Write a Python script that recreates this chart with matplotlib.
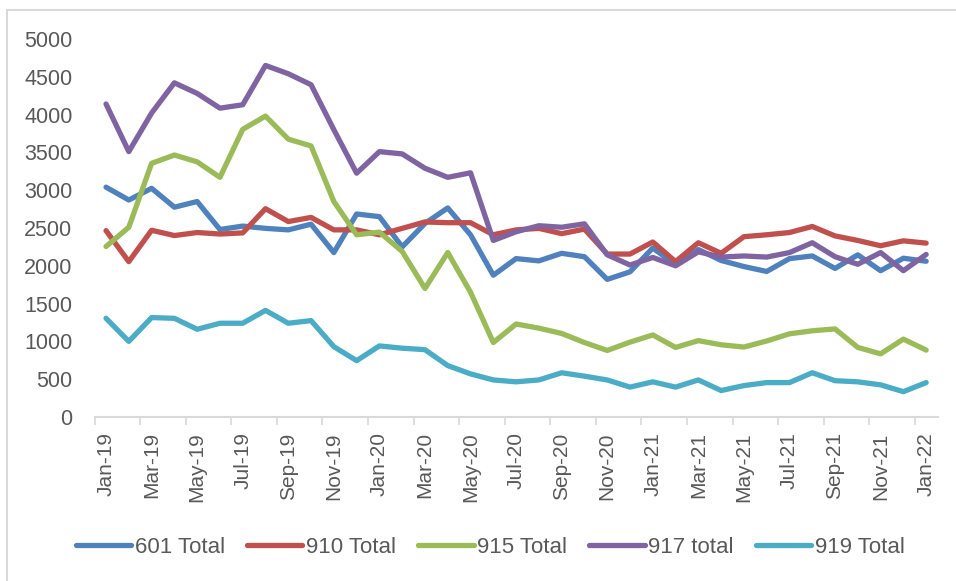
import matplotlib.pyplot as plt
from matplotlib.patches import Rectangle
import numpy as np

#### Data ####

months = ['Jan-19', 'Feb-19', 'Mar-19', 'Apr-19', 'May-19', 'Jun-19', 'Jul-19', 'Aug-19', 'Sep-19',
          'Oct-19', 'Nov-19', 'Dec-19', 'Jan-20', 'Feb-20', 'Mar-20', 'Apr-20', 'May-20', 'Jun-20',
          'Jul-20', 'Aug-20', 'Sep-20', 'Oct-20', 'Nov-20', 'Dec-20', 'Jan-21', 'Feb-21', 'Mar-21',
          'Apr-21', 'May-21', 'Jun-21', 'Jul-21', 'Aug-21', 'Sep-21', 'Oct-21', 'Nov-21', 'Dec-21',
          'Jan-22']

total_601 = [3040, 2870, 3025, 2775, 2850, 2480, 2525, 2495, 2475, 2550, 2175, 2685, 2650, 2250,
             2560, 2765, 2410, 1875, 2095, 2065, 2165, 2120, 1820, 1920, 2235, 2015, 2215, 2070,
             1990, 1925, 2095, 2130, 1965, 2145, 1935, 2100, 2060]

total_910 = [2465, 2055, 2470, 2400, 2440, 2420, 2435, 2755, 2585, 2640, 2475, 2475, 2410, 2495,
             2580, 2570, 2570, 2410, 2475, 2495, 2425, 2485, 2155, 2155, 2315, 2055, 2305, 2165,
             2385, 2410, 2440, 2520, 2395, 2335, 2265, 2330, 2300]

total_915 = [2255, 2510, 3355, 3465, 3375, 3170, 3805, 3980, 3675, 3585, 2850, 2410, 2445, 2190,
             1700, 2175, 1650, 985, 1230, 1175, 1105, 985, 880, 990, 1085, 920, 1010, 955,
             925, 1005, 1100, 1140, 1165, 920, 835, 1030, 885]

total_917 = [4140, 3510, 4020, 4420, 4280, 4085, 4130, 4650, 4540, 4395, 3800, 3225, 3510, 3480,
             3290, 3170, 3230, 2335, 2450, 2530, 2510, 2555, 2145, 2010, 2110, 2000, 2185, 2115,
             2130, 2115, 2175, 2305, 2120, 2020, 2175, 1935, 2150]

total_919 = [1305, 1000, 1315, 1305, 1160, 1240, 1240, 1410, 1240, 1275, 930, 745, 940, 910,
             890, 680, 570, 490, 465, 490, 585, 540, 490, 395, 465, 395, 490, 350,
             415, 455, 455, 585, 480, 465, 425, 335, 455]

series = [
    ('601 Total', total_601, '#4F81BD'),
    ('910 Total', total_910, '#C0504D'),
    ('915 Total', total_915, '#9BBB59'),
    ('917 total', total_917, '#8064A2'),
    ('919 Total', total_919, '#4BACC6'),
]

text_color = '#595959'
font = 'Liberation Sans'

#### Figure ####

fig = plt.figure(figsize=(9.56, 5.81), dpi=100)
ax = fig.add_axes([0.099, 0.2823, 0.8817, 0.6506])

x = np.arange(len(months))
for name, values, color in series:
    ax.plot(x, values, color=color, lw=3.8, label=name,
            solid_joinstyle='round', solid_capstyle='round')

ax.set_xlim(-0.5, len(months) - 0.5)
ax.set_ylim(0, 5000)
ax.set_yticks(range(0, 5001, 500))

# labels every second month, tick marks between categories
ax.set_xticks(x[::2])
ax.set_xticklabels(months[::2], rotation=90, fontsize=15, family=font, color=text_color)
ax.set_xticks(np.arange(-0.5, len(months) - 1, 2), minor=True)
ax.tick_params(axis='x', which='major', length=0, pad=11)
ax.tick_params(axis='x', which='minor', length=5.5, color='#d9d9d9', width=1.2)
ax.tick_params(axis='y', length=0, pad=16, labelsize=15.5, labelcolor=text_color)
for lbl in ax.get_yticklabels():
    lbl.set_family(font)

for side in ['left', 'right', 'top']:
    ax.spines[side].set_visible(False)
ax.spines['bottom'].set_color('#d9d9d9')
ax.spines['bottom'].set_linewidth(1.5)

leg = fig.legend(loc='center', bbox_to_anchor=(0.5126, 0.0585), ncol=5, frameon=False,
                 handlelength=2.5, handletextpad=0.15, columnspacing=1.0,
                 prop={'family': font, 'size': 16})
for t in leg.get_texts():
    t.set_color(text_color)

# chart frame (left and top edges visible)
fig.patches.append(Rectangle((7 / 956, -0.1), 1.2, 1 - 10 / 581 + 0.1,
                             transform=fig.transFigure, fill=False,
                             edgecolor='#d9d9d9', lw=1.5))

fig.savefig('out.png', dpi=100)
